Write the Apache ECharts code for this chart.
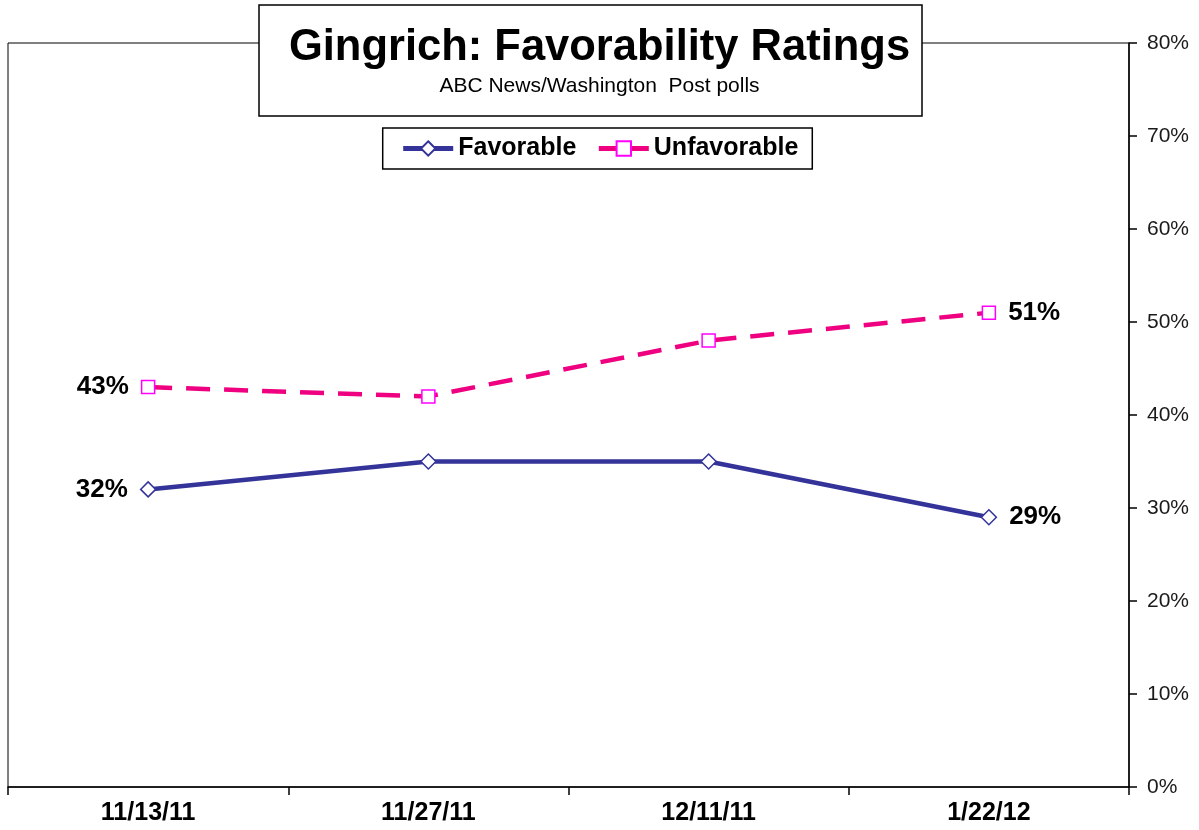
<!DOCTYPE html>
<html>
<head>
<meta charset="utf-8">
<script src="https://cdn.jsdelivr.net/npm/echarts@6/dist/echarts.min.js"></script>
<style>
  html, body { margin: 0; padding: 0; background: #fff; }
  #chart { width: 1199px; height: 830px; }
</style>
</head>
<body>
<div id="chart"></div>
<script>
var categories = ['11/13/11', '11/27/11', '12/11/11', '1/22/12'];
var favorable = [32, 35, 35, 29];
var unfavorable = [43, 42, 48, 51];
var yTicks = [0, 10, 20, 30, 40, 50, 60, 70, 80];

var FONT = '"Liberation Sans", Arial, sans-serif';

// put a label only on the first and last point
function withEndLabels(values) {
  return values.map(function (v, i) {
    var item = { value: v };
    if (i === 0) item.label = { show: true, position: 'left', distance: 12 };
    if (i === values.length - 1) item.label = { show: true, position: 'right', distance: 12 };
    return item;
  });
}

var chart = echarts.init(document.getElementById('chart'));
chart.setOption({
  backgroundColor: '#ffffff',
  animation: false,
  textStyle: { fontFamily: FONT },
  title: {
    text: 'Gingrich: Favorability Ratings',
    subtext: 'ABC News/Washington  Post polls',
    left: 'center',
    top: 21,
    itemGap: 6,
    z: 10,
    textStyle: { fontFamily: FONT, fontSize: 43.5, fontWeight: 'bold', color: '#000' },
    subtextStyle: { fontFamily: FONT, fontSize: 21, color: '#000' }
  },
  graphic: [{
    type: 'rect',
    z: 5,
    shape: { x: 259, y: 5, width: 663, height: 111 },
    style: { fill: '#fff', stroke: '#000', lineWidth: 1.5 }
  }],
  legend: {
    data: ['Favorable', 'Unfavorable'],
    top: 128,
    left: 'center',
    padding: [8, 14, 8, 18],
    itemGap: 20,
    itemWidth: 50,
    itemHeight: 18,
    borderColor: '#000',
    borderWidth: 1.5,
    backgroundColor: '#fff',
    lineStyle: { width: 5, type: 'solid' },
    textStyle: { fontFamily: FONT, fontSize: 25, fontWeight: 'bold', color: '#000' }
  },
  grid: {
    left: 8,
    right: 70,
    top: 43,
    bottom: 43,
    show: true,
    borderColor: '#000',
    borderWidth: 1
  },
  xAxis: {
    type: 'category',
    data: categories,
    boundaryGap: true,
    axisLine: { lineStyle: { color: '#000', width: 1.5 } },
    axisTick: { show: true, length: 8, lineStyle: { color: '#000', width: 1.5 } },
    axisLabel: { margin: 14, fontFamily: FONT, fontSize: 25, fontWeight: 'bold', color: '#000' }
  },
  yAxis: {
    type: 'value',
    position: 'right',
    min: yTicks[0],
    max: yTicks[yTicks.length - 1],
    interval: 10,
    axisLine: { show: true, lineStyle: { color: '#000', width: 1.5 } },
    axisTick: { show: true, length: 8, lineStyle: { color: '#000', width: 1.5 } },
    splitLine: { show: false },
    axisLabel: { margin: 18, fontFamily: FONT, fontSize: 21, color: '#1a1a1a', formatter: '{value}%' }
  },
  series: [{
    name: 'Favorable',
    type: 'line',
    data: withEndLabels(favorable),
    symbol: 'diamond',
    symbolSize: [15, 15],
    color: '#333399',
    lineStyle: { color: '#333399', width: 4.5 },
    itemStyle: { color: '#fff', borderColor: '#333399', borderWidth: 1.5 },
    label: { fontFamily: FONT, fontSize: 26, fontWeight: 'bold', color: '#000', formatter: '{c}%' },
    z: 3
  }, {
    name: 'Unfavorable',
    type: 'line',
    data: withEndLabels(unfavorable),
    symbol: 'rect',
    symbolSize: 13,
    color: '#ff0099',
    lineStyle: { color: '#ee0080', width: 4.5, type: [24, 14] },
    itemStyle: { color: '#fff', borderColor: '#ff00ff', borderWidth: 1.5 },
    label: { fontFamily: FONT, fontSize: 26, fontWeight: 'bold', color: '#000', formatter: '{c}%' },
    z: 3
  }]
});
</script>
</body>
</html>
